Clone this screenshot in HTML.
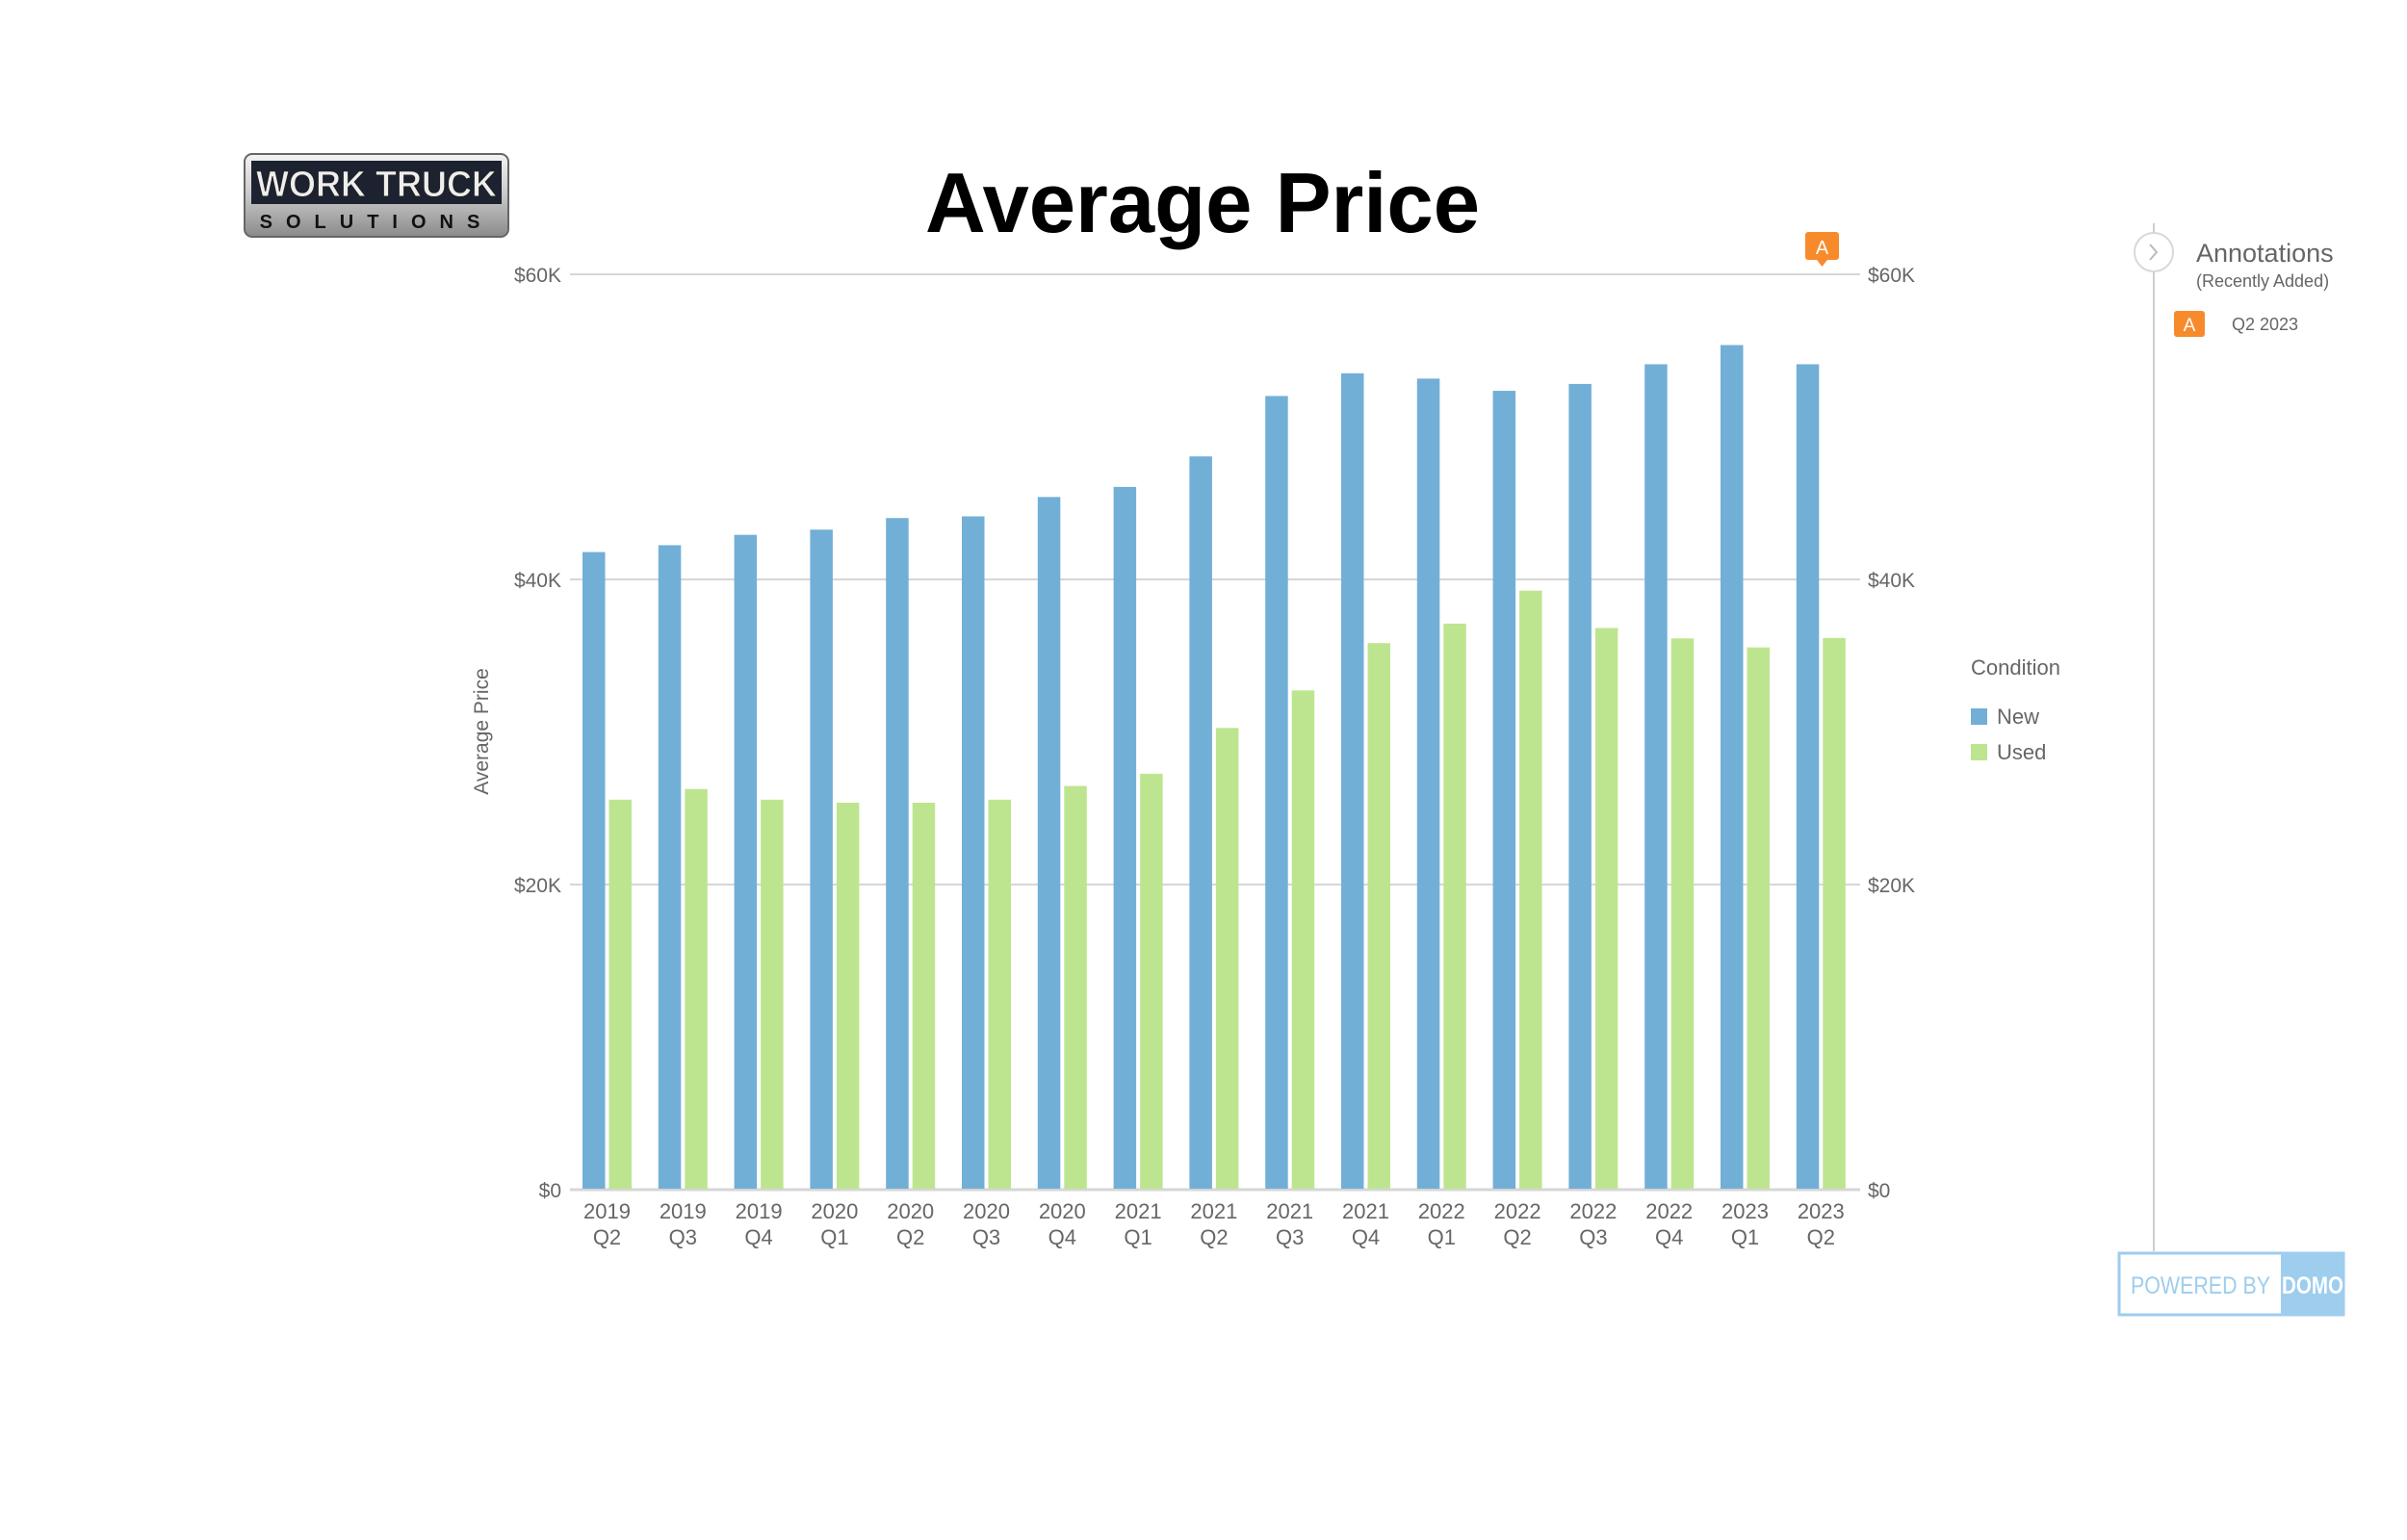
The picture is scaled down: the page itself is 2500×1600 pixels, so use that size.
<!DOCTYPE html>
<html><head><meta charset="utf-8"><style>
html,body{margin:0;padding:0;background:#fff;width:2500px;height:1600px;overflow:hidden}
svg{display:block}
text{font-family:"Liberation Sans",sans-serif}
</style></head><body>
<svg width="2500" height="1600" viewBox="0 0 2500 1600" xmlns="http://www.w3.org/2000/svg">
<defs>
<linearGradient id="chrome" x1="0" y1="0" x2="0" y2="1">
<stop offset="0" stop-color="#f4f4f4"/><stop offset="0.5" stop-color="#c8c8c8"/><stop offset="1" stop-color="#8a8a8a"/>
</linearGradient>
</defs>
<rect x="254" y="160" width="274" height="86" rx="8" fill="url(#chrome)" stroke="#666" stroke-width="2"/>
<rect x="261" y="167" width="260" height="45" fill="#1c2230"/>
<text x="391" y="204" text-anchor="middle" font-size="38" font-weight="bold" fill="#eee" stroke="#222" stroke-width="1" textLength="250" lengthAdjust="spacingAndGlyphs">WORK TRUCK</text>
<text x="391" y="237" text-anchor="middle" font-size="20" font-weight="bold" fill="#111" letter-spacing="14">SOLUTIONS</text>
<text x="1249" y="241" text-anchor="middle" font-size="88" font-weight="bold" fill="#000" textLength="576" lengthAdjust="spacingAndGlyphs">Average Price</text>
<g stroke="#d6d6d6" stroke-width="2">
<line x1="592" y1="285" x2="1932" y2="285"/>
<line x1="592" y1="602" x2="1932" y2="602"/>
<line x1="592" y1="919" x2="1932" y2="919"/>
<line x1="592" y1="1236" x2="1932" y2="1236" stroke-width="3"/>
</g>
<g font-size="21" fill="#666">
<text x="583" y="293" text-anchor="end">$60K</text>
<text x="583" y="610" text-anchor="end">$40K</text>
<text x="583" y="927" text-anchor="end">$20K</text>
<text x="583" y="1244" text-anchor="end">$0</text>
<text x="1940" y="293">$60K</text>
<text x="1940" y="610">$40K</text>
<text x="1940" y="927">$20K</text>
<text x="1940" y="1244">$0</text>
</g>
<text transform="translate(507,760) rotate(-90)" text-anchor="middle" font-size="21" fill="#666">Average Price</text>
<g id="bars"></g>
<g id="xl" font-size="22" fill="#666" text-anchor="middle"></g>
<rect x="1875" y="241" width="35" height="29" rx="3" fill="#f78b2b"/>
<polygon points="1887,270 1898,270 1892.5,277" fill="#f78b2b"/>
<text x="1892.5" y="264" text-anchor="middle" font-size="20" fill="#fff">A</text>
<text x="2047" y="701" font-size="22" fill="#666">Condition</text>
<rect x="2047" y="736" width="17" height="17" fill="#72afd7"/>
<text x="2074" y="752" font-size="22" fill="#666">New</text>
<rect x="2047" y="773" width="17" height="17" fill="#bde58f"/>
<text x="2074" y="789" font-size="22" fill="#666">Used</text>
<line x1="2237" y1="232" x2="2237" y2="1300" stroke="#cfcfcf" stroke-width="2"/>
<circle cx="2237" cy="262" r="20" fill="#fff" stroke="#d8d8d8" stroke-width="2"/>
<polyline points="2233,254 2240,262 2233,270" fill="none" stroke="#bbb" stroke-width="2"/>
<text x="2281" y="272" font-size="27" fill="#666">Annotations</text>
<text x="2281" y="298" font-size="18" fill="#666">(Recently Added)</text>
<rect x="2258" y="323" width="32" height="27" rx="3" fill="#f78b2b"/>
<text x="2274" y="344" text-anchor="middle" font-size="19" fill="#fff">A</text>
<text x="2318" y="343" font-size="18" fill="#666">Q2 2023</text>
<rect x="2201" y="1302" width="233" height="64" fill="#fff" stroke="#9ecdee" stroke-width="3"/>
<rect x="2369" y="1302" width="66" height="65" fill="#9ecdee"/>
<text x="2213" y="1344" font-size="25" fill="#9ecdee" textLength="145" lengthAdjust="spacingAndGlyphs">POWERED BY</text>
<text x="2370" y="1344" font-size="25" font-weight="bold" fill="#fff" textLength="64" lengthAdjust="spacingAndGlyphs">DOMO</text>
</svg>
<script>
var nw=[41.73,42.18,42.86,43.2,43.96,44.07,45.34,46.0,48.0,51.96,53.45,53.1,52.3,52.75,54.04,55.3,54.04];
var us=[25.5,26.2,25.5,25.3,25.3,25.5,26.4,27.2,30.2,32.66,35.76,37.04,39.2,36.75,36.07,35.48,36.1];
var lb=[["2019","Q2"],["2019","Q3"],["2019","Q4"],["2020","Q1"],["2020","Q2"],["2020","Q3"],["2020","Q4"],["2021","Q1"],["2021","Q2"],["2021","Q3"],["2021","Q4"],["2022","Q1"],["2022","Q2"],["2022","Q3"],["2022","Q4"],["2023","Q1"],["2023","Q2"]];
var ns="http://www.w3.org/2000/svg",b=document.getElementById("bars"),xl=document.getElementById("xl");
function r(x,v,c){var e=document.createElementNS(ns,"rect");var h=v/20*317;e.setAttribute("x",x);e.setAttribute("y",1235-h);e.setAttribute("width",23.5);e.setAttribute("height",h);e.setAttribute("fill",c);b.appendChild(e);}
function t(x,y,s){var e=document.createElementNS(ns,"text");e.setAttribute("x",x);e.setAttribute("y",y);e.textContent=s;xl.appendChild(e);}
for(var i=0;i<17;i++){var x=605+i*78.8;r(x,nw[i],"#72afd7");r(x+27.5,us[i],"#bde58f");var c=x+25.5;t(c,1266,lb[i][0]);t(c,1293,lb[i][1]);}
</script>
</body></html>
